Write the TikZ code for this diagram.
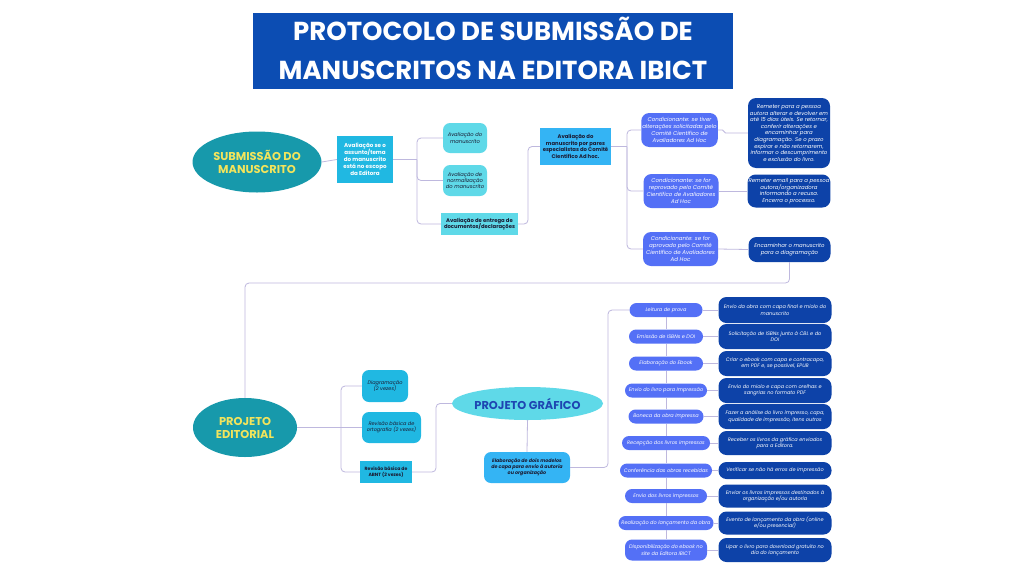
\documentclass[tikz,border=0pt]{standalone}
\usepackage{fontspec}
\setmainfont{Poppins}
\usetikzlibrary{shapes.geometric}

\definecolor{titlec}{HTML}{0C4DB3}
\definecolor{tealc}{HTML}{1799AB}
\definecolor{yellowc}{HTML}{F2E45C}
\definecolor{cyanc}{HTML}{20B8E2}
\definecolor{lightc}{HTML}{5FD9E8}
\definecolor{skyc}{HTML}{34B4F4}
\definecolor{midc}{HTML}{5470F6}
\definecolor{darkc}{HTML}{0D42A8}
\definecolor{pgtext}{HTML}{1E46B2}
\definecolor{linec}{HTML}{BEB8DE}
\definecolor{inkc}{HTML}{1B1B33}

\tikzset{
  line/.style={draw=linec, line width=0.8pt, rounded corners=4pt},
  tiny/.style={font=\fontsize{5}{6.4}\selectfont, align=center, inner sep=1pt},
  bigell/.style={ellipse, fill=tealc, text=yellowc, align=center, inner sep=0pt,
    font=\bfseries\fontsize{11.4}{13}\selectfont},
  pgell/.style={ellipse, fill=lightc, text=pgtext, align=center, inner sep=0pt,
    font=\bfseries\fontsize{11.4}{13}\selectfont},
  cyanbox/.style={tiny, fill=cyanc, text=white, font=\bfseries\fontsize{5.6}{7}\selectfont},
  lightbox/.style={tiny, fill=lightc, text=inkc, rounded corners=7pt, font=\itshape\fontsize{5.2}{6.4}\selectfont},
  lightrect/.style={tiny, fill=lightc, text=inkc, font=\bfseries\fontsize{5.3}{6.6}\selectfont},
  skyrect/.style={tiny, fill=skyc, text=inkc, font=\bfseries\fontsize{5.3}{6.6}\selectfont},
  skyround/.style={tiny, fill=skyc, text=inkc, rounded corners=7pt, font=\bfseries\itshape\fontsize{4.8}{6.2}\selectfont},
  cyanround/.style={tiny, fill=cyanc, text=inkc, rounded corners=7pt, font=\itshape\fontsize{5}{6.4}\selectfont},
  cyanrect/.style={tiny, fill=cyanc, text=inkc, font=\bfseries\fontsize{4.6}{6.2}\selectfont},
  condbox/.style={tiny, fill=midc, text=white, rounded corners=8pt, font=\itshape\fontsize{5.5}{6.8}\selectfont},
  darkbox/.style={tiny, fill=darkc, text=white, rounded corners=8pt, minimum width=82pt, font=\itshape\fontsize{5.4}{6.6}\selectfont},
  pill/.style={tiny, fill=midc, text=white, rounded corners=7pt, minimum height=14pt, font=\itshape\fontsize{5}{6.4}\selectfont},
  task/.style={tiny, fill=darkc, text=white, rounded corners=8pt, minimum width=113pt, font=\itshape\fontsize{5}{6.4}\selectfont},
}

\begin{document}
\begin{tikzpicture}[x=1pt,y=-1pt]
	\useasboundingbox[fill=white] (0,0) rectangle (1024,576);

	% title
	\node[fill=titlec, minimum width=480pt, minimum height=76pt] (title) at (493,51) {};
	\node[text=white, align=center, font=\bfseries\fontsize{26}{39}\selectfont] (titletxt)
	  at ([yshift=3pt]title.center) {PROTOCOLO DE SUBMISSÃO DE\\MANUSCRITOS NA EDITORA IBICT};

	% submission
	\node[bigell, minimum width=129pt, minimum height=61pt] (sub) at (257,162) {SUBMISSÃO DO\\MANUSCRITO};
	\node[cyanbox, minimum width=56pt, minimum height=47pt] (esc) at (365,159.5)
	  {Avaliação se o\\assunto/tema\\do manuscrito\\está no escopo\\da Editora};
	\node[lightbox, minimum width=44pt, minimum height=30pt] (aman) at (465,138) {Avaliação do\\manuscrito};
	\node[lightbox, minimum width=44pt, minimum height=31pt] (anorm) at (465,180.5) {Avaliação de\\normalização\\do manuscrito};
	\node[lightrect, minimum width=77pt, minimum height=22pt] (aent) at (479.5,224) {Avaliação de entrega de\\documentos/declarações};
	\node[skyrect, minimum width=71pt, minimum height=37pt] (apar) at (575.5,146.5)
	  {Avaliação do\\manuscrito por pares\\especialistas do Comitê\\Científico Ad hoc.};

	\node[condbox, minimum width=75pt, minimum height=34pt] (cond1) at (679.5,130)
	  {Condicionante: se tiver\\alterações solicitadas pelo\\Comitê Científico de\\Avaliadores Ad Hoc};
	\node[condbox, minimum width=75pt, minimum height=34pt] (cond2) at (681,191)
	  {Condicionante: se for\\reprovado pelo Comitê\\Científico de Avaliadores\\Ad Hoc};
	\node[condbox, minimum width=75pt, minimum height=34pt] (cond3) at (680.5,249)
	  {Condicionante: se for\\aprovado pelo Comitê\\Científico de Avaliadores\\Ad Hoc};

	\node[darkbox, minimum height=70pt] (res1) at (789,133)
	  {Remeter para a pessoa\\autora alterar e devolver em\\até 15 dias úteis. Se retornar,\\conferir alterações e\\encaminhar para\\diagramação. Se o prazo\\expirar e não retornarem,\\informar o descumprimento\\e exclusão do livro.};
	\node[darkbox, minimum height=33pt] (res2) at (789,191)
	  {Remeter email para a pessoa\\autora/organizadora\\informando a recusa.\\Encerra o processo.};
	\node[darkbox, minimum height=25pt] (res3) at (789.5,249.5)
	  {Encaminhar o manuscrito\\para a diagramação};

	% editorial
	\node[bigell, minimum width=104pt, minimum height=59pt] (ped) at (245,427.5) {PROJETO\\EDITORIAL};
	\node[cyanround, minimum width=46pt, minimum height=32pt] (diag) at (385,386) {Diagramação\\(2 vezes)};
	\node[cyanround, minimum width=59pt, minimum height=31pt] (orto) at (391.5,427.5) {Revisão básica de\\ortografia (2 vezes)};
	\node[cyanrect, minimum width=52pt, minimum height=22pt] (abnt) at (386,472) {Revisão básica de\\ABNT (2 vezes)};
	\node[pgell, minimum width=151pt, minimum height=33pt] (pg) at (527.5,403.5) {PROJETO GRÁFICO};
	\node[skyround, minimum width=86pt, minimum height=31pt] (capa) at (527,467.5)
	  {Elaboração de dois modelos\\de capa para envio à autoria\\ou organização};

	% production steps
	\node[pill, minimum width=73pt] (p1) at (666,310) {Leitura de prova};
	\node[pill, minimum width=74pt] (p2) at (666,336.5) {Emissão de ISBNs e DOI};
	\node[pill, minimum width=74pt] (p3) at (666,363.5) {Elaboração do Ebook};
	\node[pill, minimum width=82pt] (p4) at (666,390.5) {Envio do livro para Impressão};
	\node[pill, minimum width=75pt] (p5) at (666,416.5) {Boneca da obra Impressa};
	\node[pill, minimum width=88pt] (p6) at (666,443) {Recepção dos livros impressos};
	\node[pill, minimum width=92pt] (p7) at (666,470.5) {Conferência das obras recebidas};
	\node[pill, minimum width=82pt] (p8) at (666,496) {Envio dos livros impressos};
	\node[pill, minimum width=95pt] (p9) at (666,523) {Realização do lançamento da obra};
	\node[pill, minimum width=82pt, minimum height=21pt] (p10) at (666,550)
	  {Disponibilização do ebook no\\site da Editora IBICT};

	\node[task, minimum height=26pt] (s1) at (775,310) {Envio da obra com capa final e miolo do\\manuscrito};
	\node[task, minimum height=25pt] (s2) at (775,336.5) {Solicitação de ISBNs junto à CBL e do\\DOI};
	\node[task, minimum height=25pt] (s3) at (775,363.5) {Criar o ebook com capa e contracapa,\\em PDF e, se possível, EPUB};
	\node[task, minimum height=25pt] (s4) at (775,390.5) {Envio do miolo e capa com orelhas e\\sangrias no formato PDF};
	\node[task, minimum height=25pt] (s5) at (775,416.5) {Fazer a análise do livro impresso, capa,\\qualidade de impressão, itens outros};
	\node[task, minimum height=24pt] (s6) at (775,443) {Receber os livros da gráfica enviados\\para a Editora.};
	\node[task, minimum height=17pt] (s7) at (775,470.5) {Verificar se não há erros de impressão};
	\node[task, minimum height=23pt] (s8) at (775,496) {Enviar os livros impressos destinados à\\organização e/ou autoria};
	\node[task, minimum height=23pt] (s9) at (775,523) {Evento de lançamento da obra (online\\e/ou presencial)};
	\node[task, minimum height=24pt] (s10) at (775,550) {Upar o livro para download gratuito no\\dia do lançamento};

	% branch points
	\coordinate (b1) at (417,159.5);
	\coordinate (b2) at (528,224);
	\coordinate (b3) at (627,146.5);
	\coordinate (b4) at (245,283);
	\coordinate (b5) at (341,427.5);
	\coordinate (b6) at (436,472);
	\coordinate (b7) at (608,467.5);

	% connectors
	\draw[line] (sub.east) -- (esc.west);
	\draw[line] (esc.east) -- (b1);
	\draw[line] (b1) |- (aman.west);
	\draw[line] (b1) |- (anorm.west);
	\draw[line] (b1) |- (aent.west);
	\draw[line] (aent.east) -- (b2) |- (apar.west);
	\draw[line] (apar.east) -- (b3);
	\draw[line] (b3) |- (cond1.west);
	\draw[line] (b3) |- (cond2.west);
	\draw[line] (b3) |- (cond3.west);
	\draw[line, rounded corners=1.5pt] (cond1.east) -- ++(6,0) |- (res1.west);
	\draw[line] (cond2.east) -- (res2.west);
	\draw[line] (cond3.east) -- (res3.west);
	\draw[line] (res3.south) |- (b4) -- (ped.north);

	\draw[line] (ped.east) -- (b5);
	\draw[line] (b5) |- (diag.west);
	\draw[line] (b5) -- (orto.west);
	\draw[line] (b5) |- (abnt.west);
	\draw[line] (abnt.east) -- (b6) |- (pg.west);
	\draw[line] (pg.south) -- (capa.north);
	\draw[line] (capa.east) -- (b7) |- (p1.west);

	\foreach \i [count=\j from 2] in {1,...,9}
	  \draw[line] (p\i.south) -- (p\j.north);
	\foreach \i in {1,...,10}
	  \draw[line] (p\i.east) -- (s\i.west);
\end{tikzpicture}
\end{document}
